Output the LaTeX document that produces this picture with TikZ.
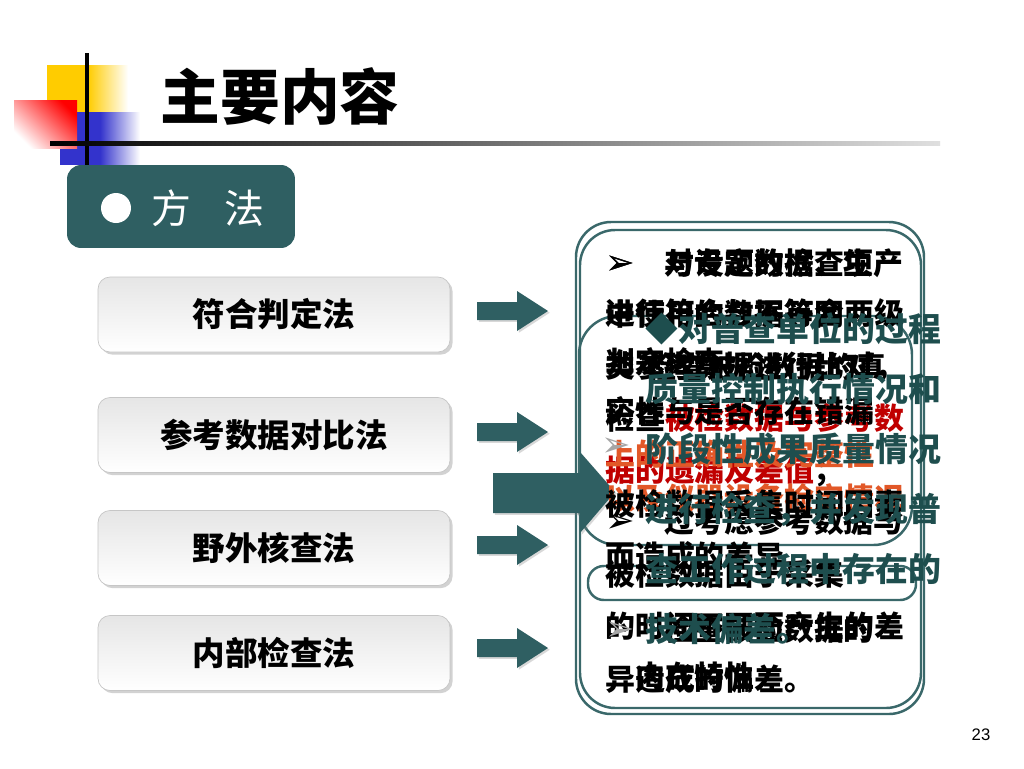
\documentclass[tikz,border=0pt]{standalone}
\usepackage{fontspec}
\setmainfont{Noto Sans CJK SC}
\newfontfamily\symfont{DejaVu Sans}
\newfontfamily\numfont{Liberation Sans}
\usetikzlibrary{shadows}
\definecolor{tealdark}{RGB}{47,95,98}
\definecolor{tealline}{RGB}{58,104,106}
\definecolor{tealtext}{RGB}{30,78,78}
\definecolor{myred}{RGB}{192,0,0}
\definecolor{myorange}{RGB}{226,88,40}
\definecolor{myyellow}{RGB}{255,204,0}
\definecolor{myblue}{RGB}{51,51,204}
\newcommand{\arr}{{\symfont\fontsize{20}{20}\selectfont ➢}}
\tikzset{
  method/.style={draw=gray!45, rounded corners=6.8pt, top color=gray!20, bottom color=white,
    minimum width=7.04cm, minimum height=1.5cm, font=\fontsize{18.5}{20}\selectfont\bfseries,
    drop shadow={opacity=.35, shadow xshift=1.5pt, shadow yshift=-1.5pt}},
  frame/.style={draw=tealline, line width=1.4pt},
  note/.style={anchor=north west, align=left, inner sep=0pt},
  blockarrow/.style={fill=tealdark, drop shadow={opacity=.3, shadow xshift=1pt, shadow yshift=-1pt}},
}
\begin{document}
\begin{tikzpicture}[x=0.02cm,y=-0.02cm]
    \fill[white] (0,0) rectangle (1024,768);
    \useasboundingbox (0,0) rectangle (1024,768);
    % corner marks of the title
    \fill[myyellow] (47,65) rectangle (88,112);
    \shade[left color=myyellow, right color=white] (88,65) rectangle (128,112);
    \fill[myblue] (60,112) rectangle (100,165);
    \shade[left color=myblue, right color=white] (100,112) rectangle (140,165);
    \shade[top color=red, bottom color=white, shading angle=-45] (14,100) rectangle (77,148);
    \draw[line width=1.8pt] (87,53)--(87,165);
    \shade[left color=black, right color=gray!25] (50,141) rectangle (940,145);
    \node[font=\fontsize{34}{36}\selectfont\bfseries] (title) at (280,96) {主要内容};
    % tab
    \node[fill=tealdark, rounded corners=8pt, minimum width=4.56cm, minimum height=1.66cm] (tab) at (181,206.5) {};
    \fill[white] (116,208) circle (0.3cm);
    \node[text=white, font=\fontsize{22.7}{24}\selectfont] (fangfa) at (208,208) {方\hspace{0.85em}法};
    % methods
    \node[method] (fuhe) at (274,314.5) {符合判定法};
    \node[method] (cankao) at (274,435) {参考数据对比法};
    \node[method] (yewai) at (274,548) {野外核查法};
    \node[method] (neibu) at (274,653) {内部检查法};
    \fill[blockarrow] (477,302)--(517,302)--(517,291)--(548,311)--(517,331)--(517,320)--(477,320)--cycle;
    \fill[blockarrow] (477,423)--(517,423)--(517,412)--(548,432)--(517,452)--(517,441)--(477,441)--cycle;
    \fill[blockarrow] (477,536)--(517,536)--(517,525)--(548,545)--(517,565)--(517,554)--(477,554)--cycle;
    \fill[blockarrow] (477,639)--(517,639)--(517,628)--(548,648)--(517,668)--(517,657)--(477,657)--cycle;
    % frames on the right
    \draw[frame, rounded corners=20pt] (576,222) rectangle (924,714);
    \draw[frame, rounded corners=20pt] (580,230) rectangle (921,708);
    \draw[frame, rounded corners=22pt] (579,316) rectangle (912,545);
    \draw[frame, rounded corners=9pt] (588,566) rectangle (916,600);
    \fill[blockarrow] (493,473)--(580,473)--(580,452)--(615,492)--(580,533)--(580,513)--(493,513)--cycle;
    % overlapping notes
    \node[note, font=\fontsize{17}{28.35}\selectfont\bfseries] (judge) at (605,248)
        {\arr\quad 对设定的检查项\\进行符合与不符合两级\\判定检查};
    \node[note, font=\fontsize{17}{29.5}\selectfont\bfseries] (compare) at (605,248)
        {\arr\quad 与专题数据、生产\\中使用的数据等同\\类参考数据进行比对，\\检查\textcolor{myred}{被检数据与参考数}\\\textcolor{myred}{据的遗漏及差值}；};
    \node[note, font=\fontsize{17}{24.9}\selectfont\bfseries] (field) at (605,352)
        {\hspace*{24pt}检查被检数据的真\\实性与是否存在错漏\\\textcolor{myorange}{上的正确性及完整性}\\\textcolor{myorange}{以及仪器设备检定情况}};
    \node[note, font=\fontsize{17}{29.5}\selectfont\bfseries] (timing) at (605,489)
        {被检数据采集时间因素\\而造成的差异};
    \node[note, font=\fontsize{17}{30}\selectfont\bfseries] (consider) at (605,506)
        {\arr\quad 过考虑参考数据与\\被检数据由于采集\\的时间不同而产生的差\\异造成的偏差。};
    \node[note, font=\fontsize{17}{26.6}\selectfont\bfseries] (inner) at (605,614)
        {\textcolor{gray!70}{\arr}\quad 检查被检数据的\\\hspace*{17pt}内在特性};
    \node[text=gray!70, font=\fontsize{17}{20}\selectfont, inner sep=0pt] (thin) at (616,447) {\arr};
    \node[note, text=tealtext, font=\fontsize{18.7}{34.2}\selectfont\bfseries] (review) at (645,312)
        {◆对普查单位的过程\\质量控制执行情况和\\阶段性成果质量情况\\进行检查，并发现普\\查工作过程中存在的\\技术偏差。};
    \node[font=\numfont\fontsize{9.5}{10}\selectfont] (page) at (981,735) {23};
\end{tikzpicture}
\end{document}
